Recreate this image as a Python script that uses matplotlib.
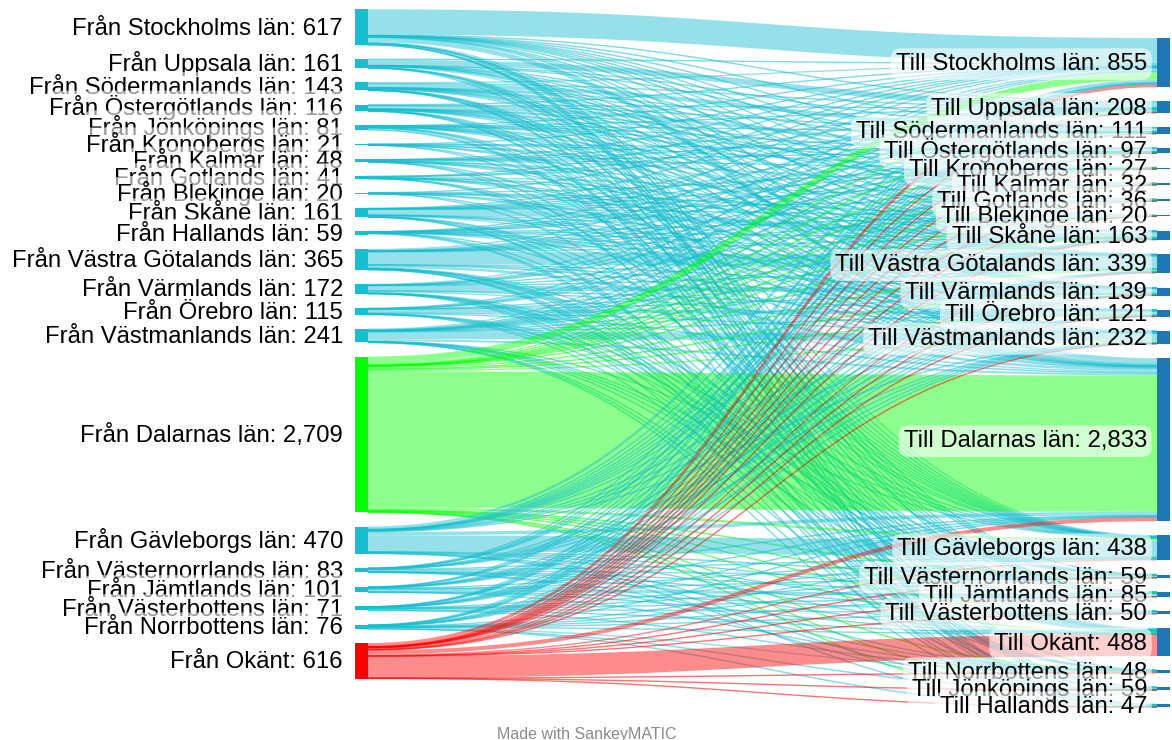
import matplotlib

matplotlib.use("Agg")
import matplotlib.pyplot as plt  # noqa: E402
from matplotlib.patches import PathPatch, Rectangle  # noqa: E402
from matplotlib.path import Path  # noqa: E402

# --- data -------------------------------------------------------------
FROM_NAMES = [
    "Stockholms län", "Uppsala län", "Södermanlands län", "Östergötlands län",
    "Jönköpings län", "Kronobergs län", "Kalmar län", "Gotlands län",
    "Blekinge län", "Skåne län", "Hallands län", "Västra Götalands län",
    "Värmlands län", "Örebro län", "Västmanlands län", "Dalarnas län",
    "Gävleborgs län", "Västernorrlands län", "Jämtlands län",
    "Västerbottens län", "Norrbottens län", "Okänt",
]
FROM_TOTALS = [617, 161, 143, 116, 81, 21, 48, 41, 20, 161, 59, 365,
               172, 115, 241, 2709, 470, 83, 101, 71, 76, 616]

TO_NAMES = [
    "Stockholms län", "Uppsala län", "Södermanlands län", "Östergötlands län",
    "Kronobergs län", "Kalmar län", "Gotlands län", "Blekinge län",
    "Skåne län", "Västra Götalands län", "Värmlands län", "Örebro län",
    "Västmanlands län", "Dalarnas län", "Gävleborgs län",
    "Västernorrlands län", "Jämtlands län", "Västerbottens län", "Okänt",
    "Norrbottens län", "Jönköpings län", "Hallands län",
]
TO_TOTALS = [855, 208, 111, 97, 27, 32, 36, 20, 163, 339, 139, 121, 232,
             2833, 438, 59, 85, 50, 488, 48, 59, 47]

# rows = FROM_NAMES, columns = TO_NAMES
FLOWS = [
    [440, 15, 4, 3, 1, 1, 2, 1, 4, 7, 3, 4, 6, 80, 19, 1, 2, 1, 20, 1, 1, 1],
    [14, 100, 2, 1, 0, 0, 1, 0, 2, 3, 1, 2, 4, 20, 3, 1, 1, 0, 5, 0, 0, 1],
    [19, 5, 70, 2, 1, 0, 1, 1, 3, 4, 2, 3, 5, 15, 3, 1, 1, 0, 5, 1, 1, 0],
    [13, 3, 2, 60, 1, 1, 0, 1, 3, 4, 1, 2, 3, 12, 2, 0, 1, 0, 4, 0, 2, 1],
    [9, 2, 1, 2, 2, 2, 0, 0, 3, 4, 1, 1, 2, 10, 2, 0, 1, 0, 3, 0, 35, 1],
    [2, 0, 0, 1, 10, 0, 0, 0, 1, 1, 0, 0, 1, 3, 1, 0, 0, 0, 1, 0, 0, 0],
    [6, 2, 1, 1, 1, 20, 0, 0, 2, 2, 0, 1, 2, 6, 1, 0, 0, 0, 2, 0, 0, 1],
    [5, 1, 1, 0, 0, 0, 22, 0, 1, 1, 0, 1, 1, 5, 1, 0, 1, 0, 1, 0, 0, 0],
    [2, 0, 0, 0, 1, 0, 0, 8, 2, 1, 0, 0, 1, 3, 1, 0, 0, 0, 1, 0, 0, 0],
    [10, 3, 1, 2, 2, 1, 1, 2, 100, 5, 1, 2, 2, 18, 2, 1, 0, 0, 6, 0, 1, 1],
    [7, 2, 1, 1, 1, 0, 0, 1, 2, 5, 1, 1, 1, 7, 1, 0, 0, 0, 2, 0, 1, 25],
    [29, 6, 3, 3, 2, 1, 1, 2, 4, 220, 6, 6, 7, 45, 7, 1, 2, 1, 12, 2, 3, 2],
    [18, 4, 1, 1, 0, 0, 1, 0, 2, 5, 85, 4, 6, 25, 8, 1, 2, 1, 6, 1, 0, 1],
    [11, 3, 2, 1, 0, 0, 0, 0, 2, 2, 4, 60, 6, 15, 2, 1, 1, 0, 4, 1, 0, 0],
    [21, 8, 3, 2, 1, 1, 1, 1, 3, 5, 4, 5, 130, 36, 5, 2, 1, 1, 8, 1, 1, 1],
    [120, 20, 8, 8, 2, 2, 3, 1, 10, 30, 15, 12, 25, 2370, 40, 5, 10, 4, 10, 4, 5, 5],
    [43, 10, 3, 2, 1, 1, 1, 1, 3, 8, 5, 5, 12, 60, 280, 6, 5, 4, 10, 3, 4, 3],
    [10, 3, 1, 1, 0, 0, 0, 0, 2, 3, 1, 2, 3, 8, 10, 30, 2, 2, 2, 2, 1, 0],
    [9, 3, 1, 0, 0, 0, 0, 0, 2, 3, 1, 2, 3, 10, 9, 2, 50, 2, 2, 2, 0, 0],
    [7, 2, 1, 1, 0, 0, 0, 0, 2, 3, 1, 1, 2, 8, 7, 2, 1, 28, 2, 3, 0, 0],
    [10, 2, 1, 1, 0, 0, 0, 0, 2, 3, 1, 2, 2, 7, 9, 2, 1, 4, 2, 25, 1, 1],
    [50, 14, 4, 4, 1, 2, 2, 1, 8, 20, 6, 5, 8, 70, 25, 3, 3, 2, 380, 2, 3, 3],
]

# --- style --------------------------------------------------------------
CYAN = "#17becf"
GREEN = "#00ff00"
RED = "#ff0000"
BLUE = "#1f77b4"
SPECIAL = {"Dalarnas län": GREEN, "Okänt": RED}

FONT = ["Liberation Sans", "DejaVu Sans"]
LABEL_SIZE = 17.2
BASELINE_SHIFT = 7.5  # px from node centre down to text baseline
LINK_ALPHA = 0.45
MIN_LINK_PX = 1.4

X_LEFT = (355, 368)
X_RIGHT = (1157, 1170)
LEFT_TOP, RIGHT_TOP = 9.3, 38.0
GAP = 14.1
LEFT_BOTTOM = 678.5

n_src, n_tgt = len(FROM_NAMES), len(TO_NAMES)
out_tot = [sum(row) for row in FLOWS]
in_tot = [sum(FLOWS[i][j] for i in range(n_src)) for j in range(n_tgt)]
assert out_tot == FROM_TOTALS, out_tot
assert in_tot == TO_TOTALS, in_tot

k = (LEFT_BOTTOM - LEFT_TOP - (n_src - 1) * GAP) / sum(out_tot)


def stack(top, totals):
    ys, y = [], top
    for t in totals:
        ys.append(y)
        y += t * k + GAP
    return ys


src_y = stack(LEFT_TOP, out_tot)
tgt_y = stack(RIGHT_TOP, in_tot)

# link positions: sorted by target at the source, by source at the target
y0s, y1s = {}, {}
for i in range(n_src):
    off = 0.0
    for j in range(n_tgt):
        w = FLOWS[i][j] * k
        if w:
            y0s[i, j] = src_y[i] + off + w / 2
            off += w
for j in range(n_tgt):
    off = 0.0
    for i in range(n_src):
        w = FLOWS[i][j] * k
        if w:
            y1s[i, j] = tgt_y[j] + off + w / 2
            off += w

fig = plt.figure(figsize=(11.72, 7.40), dpi=100)
ax = fig.add_axes([0, 0, 1, 1])
ax.set_xlim(0, 1172)
ax.set_ylim(740, 0)
ax.axis("off")

x0, x1 = X_LEFT[1], X_RIGHT[0]
xm = (x0 + x1) / 2
for (i, j), y0 in y0s.items():
    y1 = y1s[i, j]
    w = FLOWS[i][j] * k
    color = SPECIAL.get(FROM_NAMES[i], CYAN)
    path = Path([(x0, y0), (xm, y0), (xm, y1), (x1, y1)],
                [Path.MOVETO, Path.CURVE4, Path.CURVE4, Path.CURVE4])
    ax.add_patch(PathPatch(path, fill=False, edgecolor=color,
                           alpha=LINK_ALPHA if w >= 1 else 0.55,
                           lw=max(w, MIN_LINK_PX) * 0.72, capstyle="butt"))

box = dict(boxstyle="round,pad=0.2,rounding_size=0.4", fc="white",
           ec="none", alpha=0.6)

for i, name in enumerate(FROM_NAMES):
    h = out_tot[i] * k
    ax.add_patch(Rectangle((X_LEFT[0], src_y[i]), X_LEFT[1] - X_LEFT[0], h,
                           color=SPECIAL.get(name, CYAN), lw=0))
    ax.text(343, src_y[i] + h / 2 + BASELINE_SHIFT,
            f"Från {name}: {out_tot[i]:,}",
            ha="right", va="baseline", fontsize=LABEL_SIZE, family=FONT,
            color="black", bbox=box)

for j, name in enumerate(TO_NAMES):
    h = in_tot[j] * k
    ax.add_patch(Rectangle((X_RIGHT[0], tgt_y[j]), X_RIGHT[1] - X_RIGHT[0], h,
                           color=BLUE, lw=0))
    ax.text(1147, tgt_y[j] + h / 2 + BASELINE_SHIFT,
            f"Till {name}: {in_tot[j]:,}",
            ha="right", va="baseline", fontsize=LABEL_SIZE, family=FONT,
            color="black", bbox=box)

ax.text(587, 734, "Made with SankeyMATIC", ha="center", va="center",
        fontsize=11.5, family=FONT, color="#8a8a8a")

fig.savefig("out.png", dpi=100, facecolor="white")
